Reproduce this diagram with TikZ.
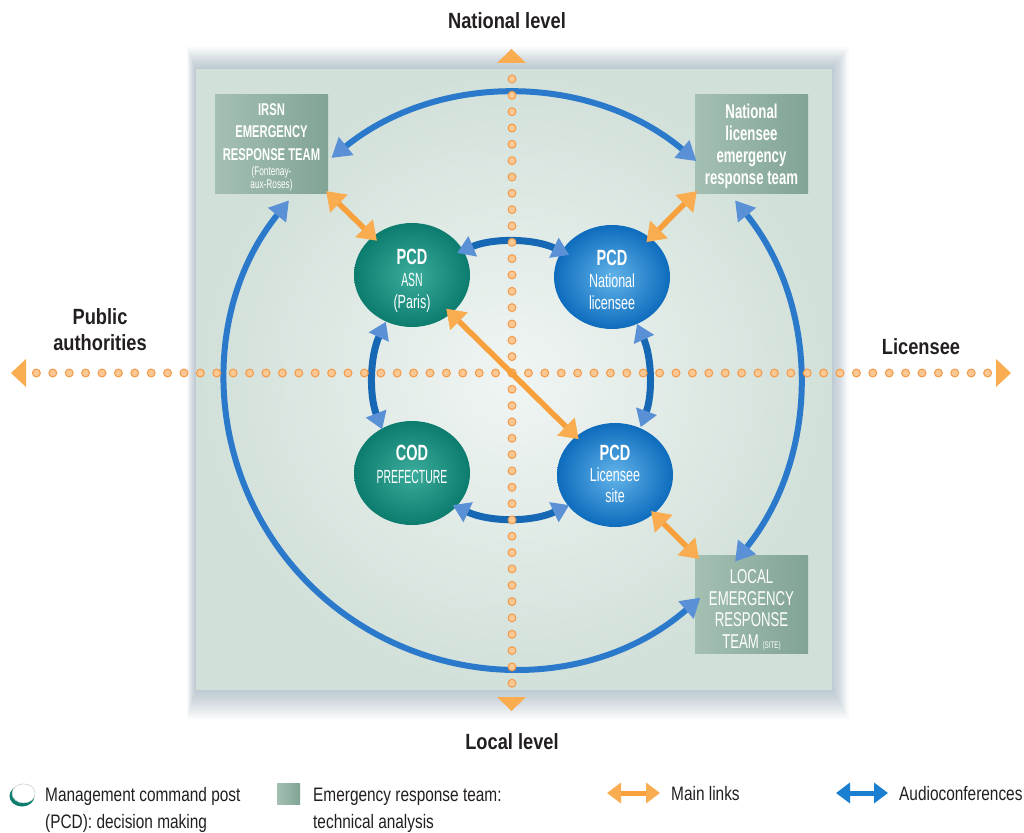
\documentclass[tikz,border=0pt]{standalone}
\usepackage{fontspec}
\setmainfont{Liberation Sans}[FakeStretch=0.83]
\newfontfamily\condfont[FakeStretch=0.66]{Liberation Sans}
\newfontfamily\capsfont[FakeStretch=0.55]{Liberation Sans}
\newfontfamily\labelfont[FakeStretch=0.83]{Liberation Sans}
\newfontfamily\legendfont[FakeStretch=0.79]{Liberation Sans}
\usetikzlibrary{arrows.meta,calc,shapes.geometric}

\definecolor{ink}{HTML}{231F20}
\definecolor{dotfill}{HTML}{FBC793}
\definecolor{dotline}{HTML}{F29B4B}
\definecolor{orangeln}{HTML}{F7A03C}
\definecolor{orangehd}{HTML}{F9AC50}
\definecolor{blueouter}{HTML}{2B79CA}
\definecolor{blueinner}{HTML}{1667B4}
\definecolor{bluehd}{HTML}{5A90D6}
\definecolor{tealdark}{HTML}{0B7C6E}
\definecolor{teallight}{HTML}{3CAC9C}
\definecolor{bluedark}{HTML}{0E6CBD}
\definecolor{bluelight}{HTML}{62B4E9}
\definecolor{boxdark}{HTML}{81A494}
\definecolor{boxlight}{HTML}{A4C0B3}
\definecolor{panelin}{HTML}{F0F5F3}
\definecolor{panelout}{HTML}{D1E0D9}
\definecolor{shadowcol}{HTML}{7E94AA}
\definecolor{legblue}{HTML}{1A7FD0}
\definecolor{legrim}{HTML}{C9D6D2}

\tikzset{
  teambox/.style={rectangle, minimum width=113pt, minimum height=98pt,
    inner sep=0pt, left color=boxlight, right color=boxdark},
  pcdteal/.style={ellipse, minimum width=116pt, minimum height=104pt,
    inner sep=0pt, inner color=teallight, outer color=tealdark},
  pcdblue/.style={ellipse, minimum width=116pt, minimum height=104pt,
    inner sep=0pt, inner color=bluelight, outer color=bluedark},
  whitetext/.style={text=white, align=center, inner sep=0pt},
  axislabel/.style={text=ink, inner sep=0pt, align=center,
    font=\labelfont\bfseries\fontsize{22}{26}\selectfont},
  legendtext/.style={text=ink, inner sep=0pt, anchor=base west,
    font=\legendfont\fontsize{19.5}{23}\selectfont},
  outerlink/.style={draw=blueouter, line width=6pt,
    {Triangle[width=22pt,length=19pt,color=bluehd]}-{Triangle[width=22pt,length=19pt,color=bluehd]}},
  innerlink/.style={draw=blueinner, line width=7pt,
    {Triangle[width=21pt,length=17pt,color=bluehd]}-{Triangle[width=21pt,length=17pt,color=bluehd]}},
  mainlink/.style={draw=orangeln, line width=5.5pt,
    {Triangle[width=24pt,length=18pt,color=orangehd]}-{Triangle[width=24pt,length=18pt,color=orangehd]}},
  dotrim/.style={draw=dotline, line width=9pt, line cap=round, dash pattern=on 0pt off 16.4pt},
  dotcore/.style={draw=dotfill, line width=6.5pt, line cap=round, dash pattern=on 0pt off 16.4pt},
  dotrimv/.style={dotrim, dash pattern=on 0pt off 16.33pt},
  dotcorev/.style={dotcore, dash pattern=on 0pt off 16.33pt},
  axishead/.style={fill=orangehd},
}

\begin{document}
\begin{tikzpicture}[x=1pt,y=-1pt]
\useasboundingbox (0,0) rectangle (1024,832);
\fill[white] (0,0) rectangle (1024,832);

% soft shadow, heavier below the panel
\foreach \k in {0,...,15}{
  \fill[shadowcol,opacity=0.04] (196-0.6*\k,70-1.5*\k) rectangle (832+1.1*\k,689+2*\k);
}
% panel
\shade[inner color=panelin, outer color=panelout] (196,70) rectangle (832,689);

% centres of the two rings
\coordinate (oc) at (512,381);
\coordinate (ic) at (511,380);

% emergency response teams
\node[teambox] (irsn) at (271.5,144) {};
\node[teambox] (natteam) at (751.5,144) {};
\node[teambox] (local) at (751.5,604) {};

% command posts
\node[pcdteal] (asn) at (412,275) {};
\node[pcdblue] (pcdnat) at (612,277) {};
\node[pcdteal] (cod) at (412,473) {};
\node[pcdblue] (pcdsite) at (615,475) {};

% box texts
\node[whitetext, font=\condfont\bfseries\fontsize{17}{22.5}\selectfont] (irsn-t) at (271.5,132)
  {IRSN\\EMERGENCY\\RESPONSE TEAM};
\node[whitetext, font=\condfont\fontsize{12.5}{11}\selectfont] (irsn-place) at (271.5,178.5)
  {(Fontenay-\\aux-Roses)};
\node[whitetext, font=\condfont\bfseries\fontsize{20}{22}\selectfont] (natteam-t) at (751.5,146)
  {National\\licensee\\emergency\\response team};
\node[whitetext, font=\condfont\fontsize{20}{21.7}\selectfont] (local-t) at (751.5,610)
  {LOCAL\\EMERGENCY\\RESPONSE\\TEAM {\fontsize{9.5}{8}\selectfont (SITE)}};

% command post texts
\node[whitetext, font=\condfont\fontsize{19}{22}\selectfont] (asn-t) at (412,281)
  {{\bfseries\fontsize{22}{22}\selectfont PCD}\\{\capsfont ASN}\\(Paris)};
\node[whitetext, font=\condfont\fontsize{19}{22}\selectfont] (pcdnat-t) at (612,280)
  {{\bfseries\fontsize{22}{22}\selectfont PCD}\\National\\licensee};
\node[whitetext, font=\condfont\fontsize{19}{23}\selectfont] (cod-t) at (412,464)
  {{\bfseries\fontsize{22}{22}\selectfont COD}\\{\capsfont PREFECTURE}};
\node[whitetext, font=\condfont\fontsize{19}{21}\selectfont] (pcdsite-t) at (615,474)
  {{\bfseries\fontsize{22}{22}\selectfont PCD}\\Licensee\\site};

% audioconference ring between the teams
\draw[outerlink] ($(oc)+(231:287)$) arc[start angle=231, end angle=310, radius=287];
\draw[outerlink] ($(oc)+(-39:287)$) arc[start angle=-39, end angle=39, radius=287];
\draw[outerlink] ($(oc)+(49:287)$) arc[start angle=49, end angle=219, radius=287];

% audioconference ring between the command posts
\draw[innerlink] ($(ic)+(247:138)$) arc[start angle=247, end angle=295, radius=138];
\draw[innerlink] ($(ic)+(-24:138)$) arc[start angle=-24, end angle=20, radius=138];
\draw[innerlink] ($(ic)+(65:138)$) arc[start angle=65, end angle=115, radius=138];
\draw[innerlink] ($(ic)+(159:138)$) arc[start angle=159, end angle=205, radius=138];

% dotted axes
\coordinate (axw) at (36.4,373);
\coordinate (axe) at (987.7,373);
\coordinate (axn) at (512,79);
\coordinate (axs) at (512,683.4);
\draw[dotrim] (axw) -- (axe);
\draw[dotcore] (axw) -- (axe);
\draw[dotrimv] (axn) -- (axs);
\draw[dotcorev] (axn) -- (axs);
\fill[axishead] (497,63) -- (526,63) -- (511.5,49) -- cycle;
\fill[axishead] (497,697) -- (526,697) -- (511.5,711) -- cycle;
\fill[axishead] (26,359) -- (26,387) -- (11,373) -- cycle;
\fill[axishead] (996,359) -- (996,387) -- (1011,373) -- cycle;

% main links
\draw[mainlink, shorten <=-3pt, shorten >=-6pt] (irsn.south east) -- (asn);
\draw[mainlink, shorten <=-3pt, shorten >=-6pt] (natteam.south west) -- (pcdnat);
\draw[mainlink, shorten <=-4pt, shorten >=-6pt] (pcdsite) -- (local.north west);
\draw[mainlink, shorten <=-7pt, shorten >=-4pt] (asn) -- (pcdsite);

% axis labels
\node[axislabel, anchor=base] (lab-nat) at (507,29) {National level};
\node[axislabel, anchor=base] (lab-loc) at (512,749) {Local level};
\node[axislabel] (lab-pub) at (100,330) {Public\\authorities};
\node[axislabel, anchor=base] (lab-lic) at (921,354) {Licensee};

% legend
\node[ellipse, minimum width=25pt, minimum height=21pt, inner sep=0pt, fill=tealdark] (leg-pcd-rim) at (22,796) {};
\node[ellipse, minimum width=23pt, minimum height=19pt, inner sep=0pt, fill=white,
      draw=legrim, line width=0.6pt] (leg-pcd) at (23.6,793.4) {};
\node[legendtext] (leg-pcd-1) at (45,801) {Management command post};
\node[legendtext] (leg-pcd-2) at (45,828) {(PCD): decision making};

\node[rectangle, minimum width=23pt, minimum height=21pt, inner sep=0pt,
      left color=boxlight, right color=boxdark] (leg-team) at (288.5,794) {};
\node[legendtext] (leg-team-1) at (313,801) {Emergency response team:};
\node[legendtext] (leg-team-2) at (313,828) {technical analysis};

\coordinate (leg-main-a) at (607,793);
\coordinate (leg-main-b) at (660,793);
\draw[draw=orangeln, line width=5pt,
  {Triangle[width=20pt,length=14pt,color=orangehd]}-{Triangle[width=20pt,length=14pt,color=orangehd]}]
  (leg-main-a) -- (leg-main-b);
\node[legendtext] (leg-main) at (671,800) {Main links};

\coordinate (leg-audio-a) at (836,793);
\coordinate (leg-audio-b) at (888,793);
\draw[draw=legblue, line width=5pt,
  {Triangle[width=20pt,length=14pt,color=legblue]}-{Triangle[width=20pt,length=14pt,color=legblue]}]
  (leg-audio-a) -- (leg-audio-b);
\node[legendtext] (leg-audio) at (899,800) {Audioconferences};
\end{tikzpicture}
\end{document}
